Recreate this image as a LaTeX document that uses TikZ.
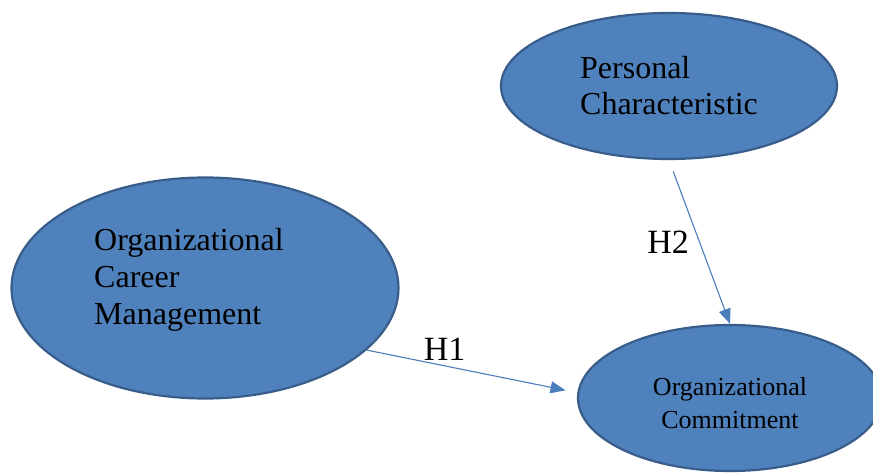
\documentclass[tikz,border=0pt]{standalone}
\usepackage{fontspec}
\setmainfont{Liberation Serif}
\usepackage{tikz}
\usetikzlibrary{shapes.geometric, arrows.meta, positioning}
\definecolor{ovalblue}{RGB}{79, 129, 189}
\definecolor{ovaledge}{RGB}{56, 93, 138}
\definecolor{linkblue}{RGB}{74, 126, 187}

\begin{document}
\begin{tikzpicture}[x=1pt, y=-1pt,
  oval/.style={ellipse, draw=ovaledge, line width=2.2pt, fill=ovalblue, inner sep=0pt},
  link/.style={draw=linkblue, line width=1.1pt, -{Triangle[length=15pt, width=12pt]}},
  hyp/.style={font=\fontsize{34}{40}\selectfont, inner sep=2pt}]
  \useasboundingbox (0,0) rectangle (873,473);
  % constructs
  \node[oval, minimum width=336pt, minimum height=146pt, align=left,
        font=\fontsize{32}{36}\selectfont] (pc) at (669,86) {Personal\\Characteristic};
  \node[oval, minimum width=387pt, minimum height=221pt,
        label={[xshift=-16pt, yshift=8pt, align=left, font=\fontsize{32}{37}\selectfont]center:Organizational\\Career\\Management}]
        (ocm) at (205,288) {};
  \node[oval, minimum width=304pt, minimum height=146pt,
        label={[yshift=-5pt, align=center, font=\fontsize{26}{33}\selectfont]center:Organizational\\Commitment}]
        (oc) at (730,398) {};
  % hypotheses
  \draw[link, shorten >=12pt] (ocm.-21) -- node[hyp, pos=0.37, above=3pt] {H1} (oc.178);
  \draw[link, shorten <=12pt] (pc.south) -- node[hyp, pos=0.5, left=8pt] {H2} (oc.north);
\end{tikzpicture}
\end{document}
